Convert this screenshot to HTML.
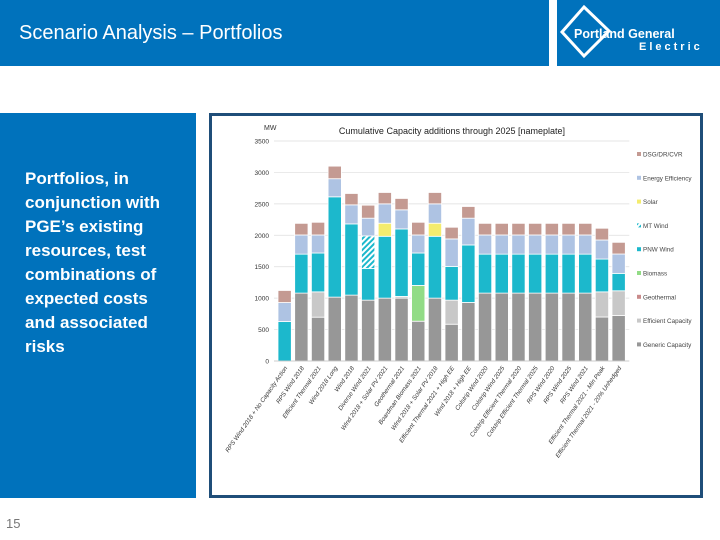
<!DOCTYPE html>
<html><head><meta charset="utf-8"><style>
body{margin:0;width:720px;height:540px;position:relative;background:#fff;font-family:"Liberation Sans",sans-serif;overflow:hidden}
.hdr{position:absolute;top:0;left:0;width:549px;height:66px;background:#0072bc}
.logo{position:absolute;top:0;left:557px;width:163px;height:66px;background:#0072bc}
.title{position:absolute;left:19px;top:22px;color:#fff;font-size:20px}
.side{position:absolute;left:0;top:113px;width:196px;height:385px;background:#0072bc}
.side p{margin:0;position:absolute;left:25px;top:54px;width:170px;color:#fff;font-weight:bold;font-size:17px;line-height:24px;white-space:nowrap}
.frame{position:absolute;left:209px;top:113px;width:488px;height:379px;border:3px solid #1f4e79}
.pg{position:absolute;left:6px;top:516px;font-size:13px;color:#777}
</style></head><body>
<div class="hdr"><div class="title">Scenario Analysis – Portfolios</div></div>
<div class="logo">
<svg width="163" height="66"><g fill="none" stroke="#fff" stroke-width="3"><polygon points="27,7 52,31 27,56 5,32"/></g>
<text x="17" y="38" fill="#fff" font-size="12.5" font-weight="bold" font-family="Liberation Sans">Portland General</text>
<text x="82" y="50" fill="#fff" font-size="11" font-weight="bold" letter-spacing="3" font-family="Liberation Sans">Electric</text></svg></div>
<div class="side"><p>Portfolios, in<br>conjunction with<br>PGE’s existing<br>resources, test<br>combinations of<br>expected costs<br>and associated<br>risks</p></div>
<div class="frame">
<svg id="chart" width="488" height="379">
<defs><pattern id="hatch" width="4" height="4" patternUnits="userSpaceOnUse" patternTransform="rotate(45)"><rect width="4" height="4" fill="#fff"/><rect width="2" height="4" fill="#1cb8cc"/></pattern></defs>
</svg></div>
<div class="pg">15</div>
<script>
const categories=["RPS Wind 2018 + No Capacity Action","RPS Wind 2018","Efficient Thermal 2021","Wind 2018 Long","Wind 2018","Diverse Wind 2021","Wind 2018 + Solar PV 2021","Geothermal 2021","Boardman Biomass 2021","Wind 2018 + Solar PV 2018","Efficient Thermal 2021 + High EE","Wind 2018 + High EE","Colstrip Wind 2020","Colstrip Wind 2025","Colstrip Efficient Thermal 2020","Colstrip Efficient Thermal 2025","RPS Wind 2020","RPS Wind 2025","RPS Wind 2021","Efficient Thermal 2021 - Min Peak","Efficient Thermal 2021 - 20% Unhedged"];
const seriesNames=["Generic Capacity","Efficient Capacity","Geothermal","Biomass","PNW Wind","MT Wind","Solar","Energy Efficiency","DSG/DR/CVR"];
const colors=["#979797","#c8c8c8","#c98a8a","#92dc86","#1cb8cc","url(#hatch)","#f4ec6e","#aec3e3","#c49a92"];
const generic=[0,1080,697,1016,1048,968,1000,1000,633,1000,585,931,1080,1080,1080,1080,1080,1080,1080,700,723];
const efficient=[0,0,403,0,0,0,0,27,0,0,383,0,0,0,0,0,0,0,0,400,394];
const geothermal=[0,0,0,0,0,0,0,0,0,0,0,0,0,0,0,0,0,0,0,0,0];
const biomass=[0,0,0,0,0,0,0,0,569,0,0,0,0,0,0,0,0,0,0,0,0];
const pnwWind=[628,620,618,1596,1133,505,984,1074,516,984,537,915,620,620,620,620,620,620,620,522,277];
const mtWind=[0,0,0,0,0,517,0,0,0,0,0,0,0,0,0,0,0,0,0,0,0];
const solar=[0,0,0,0,0,0,208,0,0,208,0,0,0,0,0,0,0,0,0,0,0];
const energyEff=[302,305,287,288,303,282,308,304,287,308,437,426,305,305,305,305,305,305,305,303,308];
const dsg=[192,185,202,200,181,207,181,181,202,181,186,186,185,185,185,185,185,185,185,187,186];
const yTicks=[0,500,1000,1500,2000,2500,3000,3500];
const series=[generic,efficient,geothermal,biomass,pnwWind,mtWind,solar,energyEff,dsg];
const NS="http://www.w3.org/2000/svg";
const svg=document.getElementById('chart');
const ox=212,oy=116;
const y0=361-oy, yMax=141-oy;
const yScale=v=>y0-(v/3500)*(y0-yMax);
const x0=278-ox, step=16.7, bw=13.3;
const xScale=i=>x0+i*step;
function mk(t,a){const e=document.createElementNS(NS,t);for(const k in a)e.setAttribute(k,a[k]);svg.appendChild(e);return e;}
let t=mk('text',{x:52,y:14,'font-size':7,fill:'#333'});t.textContent='MW';


t=mk('text',{x:240,y:18,'font-size':9,fill:'#222','text-anchor':'middle'});t.textContent='Cumulative Capacity additions through 2025 [nameplate]';


yTicks.forEach(v=>{
 if(v>0){const g=mk('line',{x1:x0-4,x2:x0+20*step+bw+4,y1:yScale(v),y2:yScale(v),stroke:'#ddd','stroke-width':0.7});
 
 }
 const l=mk('text',{x:57,y:yScale(v)+2.5,'font-size':6.5,fill:'#333','text-anchor':'end'});l.textContent=v;
 
 
});
categories.forEach((c,i)=>{
 let acc=0;
 series.forEach((s,k)=>{
  const v=s[i]; if(!v)return;
  const r=mk('rect',{x:xScale(i),y:yScale(acc+v),width:bw,height:yScale(acc)-yScale(acc+v),fill:colors[k],stroke:'#fff','stroke-width':0.8});
  
  
  acc+=v;
 });
 const cx=xScale(i)+bw/2+3, cy=y0+7;
 const l=mk('text',{x:cx,y:cy,'font-size':6.2,fill:'#333','font-style':'italic','text-anchor':'end',transform:`rotate(-55 ${cx} ${cy})`});
 l.textContent=c;
 
 
});
const ax=mk('line',{x1:x0-4,x2:x0+20*step+bw+4,y1:y0,y2:y0,stroke:'#bbb','stroke-width':0.8});


const legOrder=[8,7,6,5,4,3,2,1,0];
const legNames=["DSG/DR/CVR","Energy Efficiency","Solar","MT Wind","PNW Wind","Biomass","Geothermal","Efficient Capacity","Generic Capacity"];
legOrder.forEach((k,j)=>{
 const ly=155-oy+j*23.8;
 const r=mk('rect',{x:637-ox,y:ly-3,width:4,height:4,fill:colors[k]});
 
 
 const l=mk('text',{x:643-ox,y:ly+1.5,'font-size':6.3,fill:'#444'});l.textContent=legNames[j];
 
 
});
</script>
</body></html>
